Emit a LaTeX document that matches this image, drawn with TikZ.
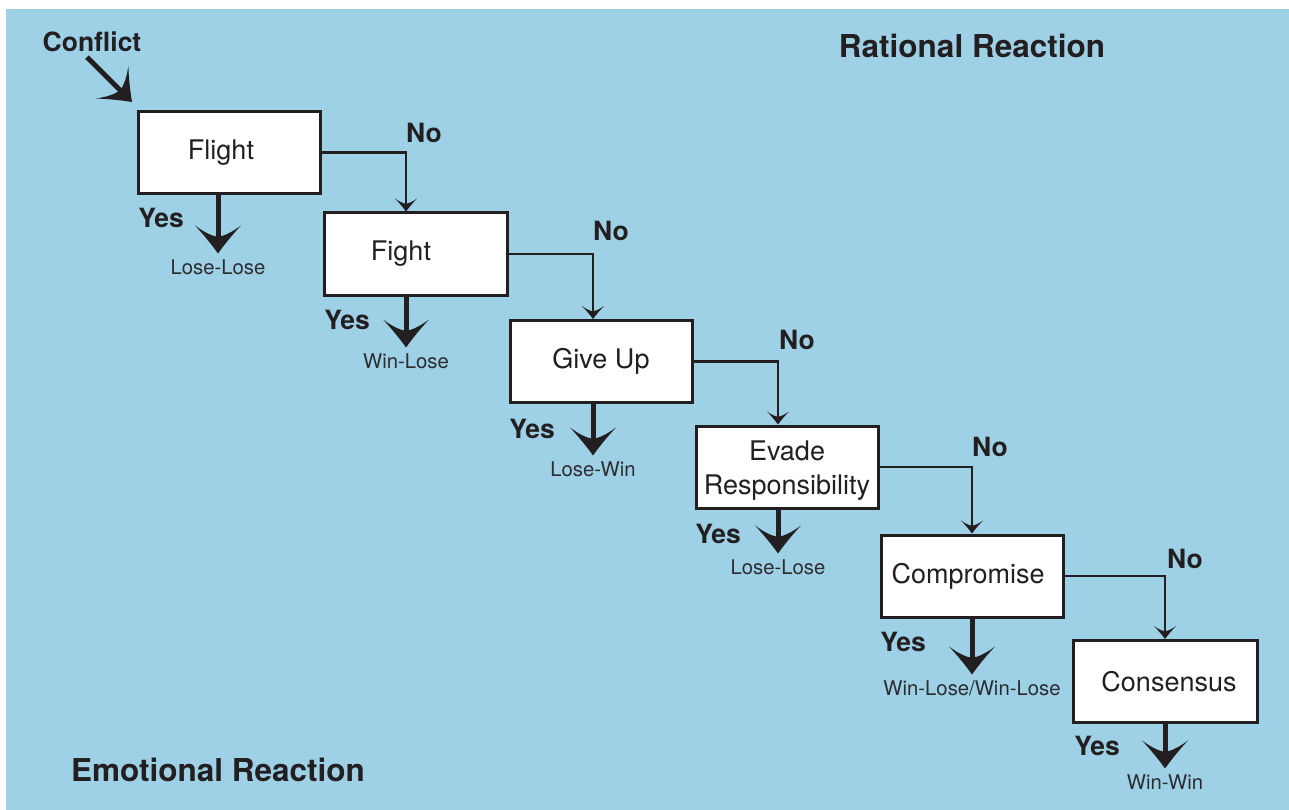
\documentclass[tikz,border=0pt]{standalone}
\usepackage{fontspec}
\setmainfont{TeX Gyre Heros}
\usetikzlibrary{arrows.meta}

\definecolor{sky}{RGB}{158,208,230}
\definecolor{ink}{RGB}{35,31,32}
\definecolor{softink}{RGB}{45,45,48}

% Swept arrow head: slightly hollowed flanks and a notched back
\pgfdeclarearrow{
  name = Swoop,
  parameters = {\the\pgfarrowlength,\the\pgfarrowwidth},
  setup code = {
    \pgfarrowssettipend{0pt}
    \pgfarrowssetlineend{-.5\pgfarrowlength}
    \pgfarrowssetbackend{-\pgfarrowlength}
    \pgfarrowsupperhullpoint{-\pgfarrowlength}{.5\pgfarrowwidth}
    \pgfarrowsupperhullpoint{0pt}{0pt}
    \pgfarrowssavethe\pgfarrowlength
    \pgfarrowssavethe\pgfarrowwidth
  },
  drawing code = {
    \pgfpathmoveto{\pgfqpoint{0pt}{0pt}}
    \pgfpathcurveto{\pgfqpoint{-.3\pgfarrowlength}{.13\pgfarrowwidth}}{\pgfqpoint{-.65\pgfarrowlength}{.3\pgfarrowwidth}}{\pgfqpoint{-\pgfarrowlength}{.5\pgfarrowwidth}}
    \pgfpathcurveto{\pgfqpoint{-.78\pgfarrowlength}{.32\pgfarrowwidth}}{\pgfqpoint{-.62\pgfarrowlength}{.14\pgfarrowwidth}}{\pgfqpoint{-.6\pgfarrowlength}{0pt}}
    \pgfpathcurveto{\pgfqpoint{-.62\pgfarrowlength}{-.14\pgfarrowwidth}}{\pgfqpoint{-.78\pgfarrowlength}{-.32\pgfarrowwidth}}{\pgfqpoint{-\pgfarrowlength}{-.5\pgfarrowwidth}}
    \pgfpathcurveto{\pgfqpoint{-.65\pgfarrowlength}{-.3\pgfarrowwidth}}{\pgfqpoint{-.3\pgfarrowlength}{-.13\pgfarrowwidth}}{\pgfqpoint{0pt}{0pt}}
    \pgfpathclose
    \pgfusepathqfill
  },
  defaults = {length=28pt, width=46pt}
}

\begin{document}
\begin{tikzpicture}[x=1pt,y=-1pt,
  box/.style={draw=ink, line width=3pt, fill=white, minimum width=182pt,
    minimum height=82pt, inner sep=0pt},
  boxtext/.style={font=\fontsize{27}{34}\selectfont, text=ink, inner sep=0pt},
  tag/.style={font=\bfseries\fontsize{26.5}{30}\selectfont, text=ink, inner sep=0pt},
  heading/.style={font=\bfseries\fontsize{31.5}{36}\selectfont, text=ink, inner sep=0pt},
  outcome/.style={font=\fontsize{20.3}{24}\selectfont, text=softink, inner sep=0pt,
    text height=14.6pt, text depth=0pt},
  bigflow/.style={draw=ink, line width=5pt, -{Swoop[length=28pt,width=46pt]}},
  yesflow/.style={bigflow, shorten >=6pt},
  noflow/.style={draw=ink, line width=2.5pt, -{Swoop[length=13pt,width=22pt]}},
]
% canvas and panel
\useasboundingbox (0,0) rectangle (1289,810);
\fill[white] (0,0) rectangle (1289,810);
\fill[sky] (6,9) rectangle (1289,810);

% headings
\node[heading] (rational) at (972,46) {Rational Reaction};
\node[heading] (emotional) at (218,770) {Emotional Reaction};

% decision boxes
\node[box, label={[boxtext,xshift=-8.5pt]center:Flight}] (flight) at (229.5,152.5) {};
\node[box, minimum width=183pt, label={[boxtext,xshift=-15pt]center:Fight}] (fight) at (416,254) {};
\node[box, label={[boxtext]center:Give Up}] (giveup) at (601,361.5) {};
\node[box, label={[boxtext,align=center,yshift=-4pt]center:Evade\\Responsibility}] (evade) at (787,467) {};
\node[box, label={[boxtext,xshift=-4pt]center:Compromise}] (compromise) at (972,576) {};
\node[box, minimum width=184pt, label={[boxtext,xshift=3.5pt]center:Consensus}] (consensus) at (1165.5,681.5) {};

% outcomes
\node[outcome] (o1) at (218,267) {Lose-Lose};
\node[outcome] (o2) at (406,361) {Win-Lose};
\node[outcome] (o3) at (593,469) {Lose-Win};
\node[outcome] (o4) at (778,567) {Lose-Lose};
\node[outcome] (o5) at (972,688) {Win-Lose/Win-Lose};
\node[outcome] (o6) at (1165,782) {Win-Win};

% entry
\node[tag] (conflict) at (92,42) {Conflict};
\draw[bigflow] ([xshift=-5pt,yshift=-5pt]conflict.south) -- ([xshift=-5pt,yshift=8pt]flight.north west);

% yes branches
\node[tag] (y1) at (161,218) {Yes};
\node[tag] (y2) at (347,320) {Yes};
\node[tag] (y3) at (532,429) {Yes};
\node[tag] (y4) at (718,534) {Yes};
\node[tag] (y5) at (903,642) {Yes};
\node[tag] (y6) at (1097,746) {Yes};
\draw[yesflow] (flight.south -| o1) -- (o1.north);
\draw[yesflow] (fight.south -| o2) -- (o2.north);
\draw[yesflow] (giveup.south -| o3) -- (o3.north);
\draw[yesflow] (evade.south -| o4) -- (o4.north);
\draw[yesflow] (compromise.south -| o5) -- (o5.north);
\draw[yesflow] (consensus.south -| o6) -- (o6.north);

% no branches
\node[tag] (n1) at (424,133) {No};
\node[tag] (n2) at (611,231) {No};
\node[tag] (n3) at (797,340) {No};
\node[tag] (n4) at (990,447) {No};
\node[tag] (n5) at (1185,559) {No};
\draw[noflow] (flight.east) -| (fight.north -| o2);
\draw[noflow] (fight.east) -| (giveup.north -| o3);
\draw[noflow] (giveup.east) -| (evade.north -| o4);
\draw[noflow] (evade.east) -| (compromise.north -| o5);
\draw[noflow] (compromise.east) -| (consensus.north -| o6);
\end{tikzpicture}
\end{document}
